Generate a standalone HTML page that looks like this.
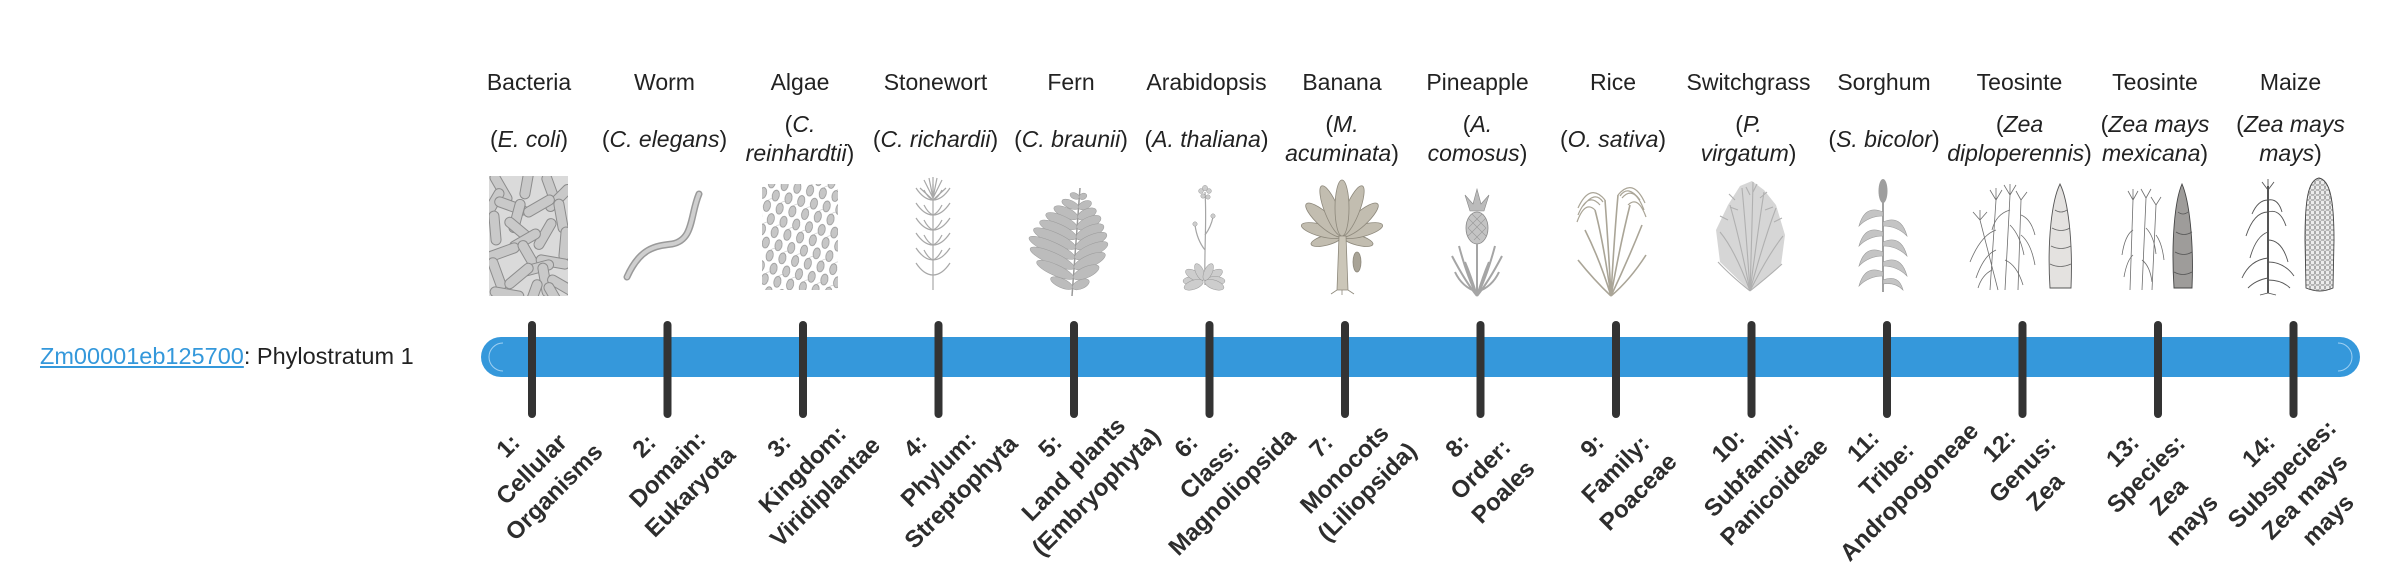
<!DOCTYPE html>
<html><head><meta charset="utf-8">
<style>
html,body{margin:0;padding:0;background:#fff;}
body{width:2400px;height:580px;position:relative;overflow:hidden;font-family:"Liberation Sans",sans-serif;color:#222;}
svg.bg{position:absolute;left:0;top:0;}
.nm,.sp{position:absolute;width:200px;text-align:center;font-size:23px;line-height:29px;white-space:nowrap;}
.nm{top:67.5px;}
.sp{top:124.5px;}
.sp.two{top:110px;}
.sp i{font-style:italic;}
.lb{position:absolute;top:421px;font-weight:bold;font-size:24px;line-height:32.5px;text-align:center;white-space:nowrap;color:#2d2d2d;transform:translateX(-50%) rotate(-45deg);}
.gene{position:absolute;left:40px;top:341px;font-size:23.5px;line-height:30px;white-space:nowrap;color:#222;}
.gene a{color:#3498db;text-decoration:underline;}
</style></head><body>
<svg class="bg" width="2400" height="580" viewBox="0 0 2400 580" xmlns="http://www.w3.org/2000/svg">
<defs>
<rect id="rod" x="-17" y="-5" width="34" height="10" rx="5" fill="#c9c9c9" stroke="#8c8c8c" stroke-width="1"/>
<clipPath id="bc"><rect x="0" y="0" width="79" height="120"/></clipPath>
<pattern id="alg" width="13" height="24" patternUnits="userSpaceOnUse" patternTransform="rotate(12)">
<ellipse cx="6.5" cy="6" rx="3.5" ry="5.5" fill="#c6c6c6" stroke="#8f8f8f" stroke-width="0.7"/>
<ellipse cx="0" cy="18" rx="3.5" ry="5.5" fill="#c6c6c6" stroke="#8f8f8f" stroke-width="0.7"/>
<ellipse cx="13" cy="18" rx="3.5" ry="5.5" fill="#c6c6c6" stroke="#8f8f8f" stroke-width="0.7"/>
<path d="M6.5,0 q-3,-3 -5,-2 M0,12 q3,-3 5,-2" stroke="#aaa" stroke-width="0.5" fill="none"/>
</pattern>
<pattern id="kern" width="5" height="5" patternUnits="userSpaceOnUse">
<rect x="0.5" y="0.5" width="4" height="4" rx="1" fill="#ececec" stroke="#7a7a7a" stroke-width="0.6"/>
</pattern>
</defs>

<!-- Bacteria -->
<g transform="translate(489,176)" clip-path="url(#bc)">
<rect width="79" height="120" fill="#dadada"/>
<use href="#rod" transform="translate(12,12) rotate(60)"/>
<use href="#rod" transform="translate(38,6) rotate(100)"/>
<use href="#rod" transform="translate(62,14) rotate(70)"/>
<use href="#rod" transform="translate(4,28) rotate(120)"/>
<use href="#rod" transform="translate(22,30) rotate(20)"/>
<use href="#rod" transform="translate(70,22) rotate(-45)"/>
<use href="#rod" transform="translate(50,30) rotate(-30)"/>
<use href="#rod" transform="translate(28,40) rotate(-75)"/>
<use href="#rod" transform="translate(72,40) rotate(80)"/>
<use href="#rod" transform="translate(6,52) rotate(85)"/>
<use href="#rod" transform="translate(30,54) rotate(40)"/>
<use href="#rod" transform="translate(56,58) rotate(-60)"/>
<use href="#rod" transform="translate(36,64) rotate(150)"/>
<use href="#rod" transform="translate(76,68) rotate(95)"/>
<use href="#rod" transform="translate(14,76) rotate(-20)"/>
<use href="#rod" transform="translate(40,80) rotate(60)"/>
<use href="#rod" transform="translate(64,86) rotate(10)"/>
<use href="#rod" transform="translate(48,92) rotate(-15)"/>
<use href="#rod" transform="translate(8,98) rotate(70)"/>
<use href="#rod" transform="translate(30,100) rotate(-40)"/>
<use href="#rod" transform="translate(56,104) rotate(80)"/>
<use href="#rod" transform="translate(74,110) rotate(30)"/>
<use href="#rod" transform="translate(18,118) rotate(10)"/>
<use href="#rod" transform="translate(44,120) rotate(-70)"/>
<use href="#rod" transform="translate(66,122) rotate(60)"/>
</g>

<!-- Worm -->
<path d="M699,194 C690,215 694,240 672,244 C655,246 640,248 627,277" fill="none" stroke="#9a9a9a" stroke-width="7" stroke-linecap="round"/>
<path d="M699,194 C690,215 694,240 672,244 C655,246 640,248 627,277" fill="none" stroke="#cfcfcf" stroke-width="4" stroke-linecap="round"/>

<!-- Algae -->
<rect x="762" y="184" width="76" height="106" fill="url(#alg)"/>

<!-- Stonewort -->
<g stroke="#a8a8a8" fill="none" stroke-width="1.2">
<path d="M933,184 L933,290"/>
<path d="M933,200 q-9,0 -17,-12 M933,200 q9,0 17,-12 M933,200 q-5,-2 -9,-10 M933,200 q5,-2 9,-10"/>
<path d="M933,215 q-9,0 -17,-12 M933,215 q9,0 17,-12 M933,215 q-5,-2 -9,-10 M933,215 q5,-2 9,-10"/>
<path d="M933,230 q-9,0 -17,-12 M933,230 q9,0 17,-12 M933,230 q-5,-2 -9,-10 M933,230 q5,-2 9,-10"/>
<path d="M933,245 q-9,0 -17,-12 M933,245 q9,0 17,-12 M933,245 q-5,-2 -9,-10 M933,245 q5,-2 9,-10"/>
<path d="M933,260 q-9,0 -17,-12 M933,260 q9,0 17,-12 M933,260 q-5,-2 -9,-10 M933,260 q5,-2 9,-10"/>
<path d="M933,275 q-9,0 -17,-12 M933,275 q9,0 17,-12"/>
<path d="M933,198 L924,180 M933,198 L929,178 M933,198 L933,177 M933,198 L937,178 M933,198 L942,180 M933,200 L920,188 M933,200 L946,188"/>
</g>

<!-- Fern -->
<g fill="#bcbcbc" stroke="#9a9a9a" stroke-width="0.5">
<path d="M1080,188 L1072,296" stroke="#999" stroke-width="1.5" fill="none"/>
<g transform="translate(1079.3,198)"><ellipse cx="-5" rx="5" ry="3" transform="rotate(24)"/><ellipse cx="4" rx="4" ry="3" transform="rotate(-24)"/></g>
<g transform="translate(1078.5,208)"><ellipse cx="-9" rx="9" ry="4" transform="rotate(24)"/><ellipse cx="7" rx="7" ry="4" transform="rotate(-24)"/></g>
<g transform="translate(1077.8,218)"><ellipse cx="-13" rx="13" ry="5" transform="rotate(24)"/><ellipse cx="10" rx="10" ry="5" transform="rotate(-24)"/></g>
<g transform="translate(1077,228)"><ellipse cx="-17" rx="17" ry="5.5" transform="rotate(24)"/><ellipse cx="13" rx="13" ry="5.5" transform="rotate(-24)"/></g>
<g transform="translate(1076.3,238)"><ellipse cx="-20" rx="20" ry="6" transform="rotate(24)"/><ellipse cx="15" rx="15" ry="6" transform="rotate(-24)"/></g>
<g transform="translate(1075.6,248)"><ellipse cx="-23" rx="23" ry="6" transform="rotate(24)"/><ellipse cx="17" rx="17" ry="6" transform="rotate(-24)"/></g>
<g transform="translate(1074.8,258)"><ellipse cx="-25" rx="25" ry="6" transform="rotate(24)"/><ellipse cx="18" rx="18" ry="6" transform="rotate(-24)"/></g>
<g transform="translate(1074.1,268)"><ellipse cx="-24" rx="24" ry="6" transform="rotate(24)"/><ellipse cx="17" rx="17" ry="6" transform="rotate(-24)"/></g>
<g transform="translate(1073.3,278)"><ellipse cx="-20" rx="20" ry="5.5" transform="rotate(24)"/><ellipse cx="14" rx="14" ry="5.5" transform="rotate(-24)"/></g>
<g transform="translate(1072.6,288)"><ellipse cx="-12" rx="12" ry="4.5" transform="rotate(24)"/><ellipse cx="9" rx="9" ry="4.5" transform="rotate(-24)"/></g>
</g>

<!-- Arabidopsis -->
<g fill="none" stroke="#a5a5a5" stroke-width="1.2">
<path d="M1205,285 C1204,250 1207,220 1205,192"/>
<path d="M1205,250 q-8,-10 -10,-25 M1205,235 q6,-8 8,-18"/>
</g>
<g fill="#cdcdcd" stroke="#999" stroke-width="0.5">
<circle cx="1205" cy="188" r="2.6"/><circle cx="1201" cy="191" r="2.4"/><circle cx="1209" cy="191" r="2.4"/>
<circle cx="1203" cy="196" r="2.2"/><circle cx="1208" cy="197" r="2.2"/><circle cx="1195" cy="224" r="2.2"/><circle cx="1213" cy="216" r="2.2"/>
<g transform="translate(1204,281)">
<ellipse cx="-11" rx="10" ry="4.5"/><ellipse cx="-11" rx="10" ry="4.5" transform="rotate(30)"/><ellipse cx="-11" rx="10" ry="4.5" transform="rotate(-20)"/>
<ellipse cx="-11" rx="10" ry="4.5" transform="rotate(150)"/><ellipse cx="-11" rx="10" ry="4.5" transform="rotate(180)"/><ellipse cx="-11" rx="10" ry="4.5" transform="rotate(200)"/>
<ellipse cx="-10" rx="9" ry="4" transform="rotate(65)"/><ellipse cx="-10" rx="9" ry="4" transform="rotate(115)"/>
</g>
</g>

<!-- Banana -->
<g fill="#c2bdb0" stroke="#8d887b" stroke-width="0.8">
<g transform="translate(1342,236)">
<ellipse cx="0" cy="-16" rx="5" ry="16" transform="rotate(-105)"/><ellipse cx="0" cy="-16" rx="5" ry="16" transform="rotate(105)"/>
<ellipse cx="0" cy="-21" rx="6" ry="21" transform="rotate(-75)"/><ellipse cx="0" cy="-21" rx="6" ry="21" transform="rotate(75)"/>
<ellipse cx="0" cy="-24" rx="7" ry="24" transform="rotate(-48)"/><ellipse cx="0" cy="-24" rx="7" ry="24" transform="rotate(48)"/>
<ellipse cx="0" cy="-27" rx="7" ry="27" transform="rotate(-22)"/><ellipse cx="0" cy="-27" rx="7" ry="27" transform="rotate(22)"/>
<ellipse cx="0" cy="-28" rx="7" ry="28"/>
</g>
<path d="M1337,290 L1339,236 L1346,236 L1348,290 Z" fill="#cbc6b8"/>
<ellipse cx="1357" cy="262" rx="4" ry="10" fill="#a8a396"/>
<path d="M1337,290 l-6,4 M1342,290 l0,5 M1348,290 l6,4" fill="none"/>
</g>

<!-- Pineapple -->
<g>
<path d="M1470,211 L1465,195 L1473,204 L1477,189 L1481,204 L1489,195 L1484,211 Z" fill="#bbb" stroke="#888" stroke-width="0.6"/>
<ellipse cx="1477" cy="228" rx="11" ry="16" fill="#c4c4c4" stroke="#888" stroke-width="0.8"/>
<path d="M1468,218 l18,18 M1468,228 l12,12 M1472,214 l14,14 M1486,218 l-18,18 M1486,228 l-12,12 M1482,214 l-14,14" stroke="#999" stroke-width="0.6" fill="none"/>
<g fill="none" stroke="#a5a5a5" stroke-width="2">
<path d="M1477,296 L1477,244"/>
<path d="M1477,296 q-12,-15 -25,-40 M1477,296 q-10,-20 -18,-50 M1477,296 q-6,-20 -12,-34 M1477,292 q-15,-5 -22,-20"/>
<path d="M1477,296 q12,-15 25,-40 M1477,296 q10,-20 18,-50 M1477,296 q6,-20 12,-34 M1477,292 q15,-5 22,-20"/>
</g>
</g>

<!-- Rice -->
<g fill="none" stroke="#aaa597" stroke-width="1.6">
<path d="M1611,296 Q1600,260 1585,230 M1611,296 Q1603,240 1595,210 M1611,296 Q1608,240 1605,200 M1611,296 Q1614,240 1618,195 M1611,296 Q1620,245 1630,205 M1611,296 Q1628,260 1642,225 M1611,296 Q1594,280 1578,260 M1611,296 Q1630,280 1646,255"/>
<path d="M1605,200 q-15,-18 -27,8 M1600,205 q-12,-14 -22,10 M1595,210 q-10,-10 -18,12 M1603,202 q-8,-12 -20,4" stroke-width="1.2"/>
<path d="M1618,195 q15,-18 27,8 M1622,198 q12,-14 22,12 M1628,205 q10,-10 18,12 M1620,196 q8,-12 20,4" stroke-width="1.2"/>
</g>

<!-- Switchgrass -->
<g>
<path d="M1750,291 L1720,262 L1716,230 L1728,205 L1740,186 L1752,181 L1764,190 L1776,205 L1785,235 L1781,265 Z" fill="#d6d6d6"/>
<g fill="none" stroke="#b0b0b0" stroke-width="1.1">
<path d="M1750,291 Q1735,250 1720,232 M1750,291 Q1740,240 1730,205 M1750,291 Q1746,230 1742,188 M1750,291 Q1752,230 1753,182 M1750,291 Q1758,230 1764,192 M1750,291 Q1764,240 1776,208 M1750,291 Q1768,255 1783,236 M1750,291 Q1730,275 1718,262 M1750,291 Q1770,275 1782,264"/>
<path d="M1735,200 l-6,-6 M1738,210 l-8,-3 M1760,198 l7,-6 M1765,210 l8,-3 M1750,195 l-4,-8 M1753,192 l4,-8 M1728,220 l-8,-4 M1774,222 l8,-4"/>
</g>
</g>

<!-- Sorghum -->
<g>
<path d="M1883,292 L1883,200" stroke="#a0a0a0" stroke-width="2"/>
<ellipse cx="1883" cy="191" rx="4.5" ry="12" fill="#9e9e9e"/>
<g fill="#c4c4c4" stroke="#999" stroke-width="0.6">
<path d="M1883,212 q-18,-8 -24,14 q10,-10 24,-10 Z"/>
<path d="M1883,232 q-18,-8 -24,14 q10,-10 24,-10 Z"/>
<path d="M1883,252 q-18,-8 -24,14 q10,-10 24,-10 Z"/>
<path d="M1883,272 q-18,-8 -24,14 q10,-10 24,-10 Z"/>
<path d="M1883,222 q18,-8 24,14 q-10,-10 -24,-10 Z"/>
<path d="M1883,242 q18,-8 24,14 q-10,-10 -24,-10 Z"/>
<path d="M1883,262 q18,-8 24,14 q-10,-10 -24,-10 Z"/>
<path d="M1883,280 q16,-6 20,10 q-8,-8 -20,-6 Z"/>
</g>
</g>

<!-- Teosinte 1 -->
<g fill="none" stroke="#6e6e6e" stroke-width="0.8">
<path d="M1990,290 L1996,200 M2005,290 L2010,195 M2018,290 L2021,200 M1998,290 L1980,220"/>
<path d="M1996,230 q-15,5 -26,32 M1996,250 q-12,5 -20,28 M2010,225 q10,10 14,30 M2021,235 q10,8 14,30 M2005,260 q12,5 18,25 M1992,270 q-10,5 -14,18 M2010,210 q-14,4 -18,20 M2021,215 q10,4 14,20"/>
<path d="M1996,200 l-6,-10 M1996,200 l0,-12 M1996,200 l6,-10 M2010,195 l-6,-10 M2010,195 l0,-11 M2010,195 l6,-10 M2021,200 l-5,-9 M2021,200 l6,-8 M1980,220 l-7,-8 M1980,220 l0,-10 M1980,220 l7,-8"/>
</g>
<path d="M2060,184 C2068,200 2073,240 2071,288 L2050,288 C2047,240 2052,200 2060,184 Z" fill="#e4e2e0" stroke="#555" stroke-width="0.9"/>
<path d="M2055,210 q6,4 12,0 M2052,228 q9,5 18,0 M2051,246 q10,5 20,0 M2050,264 q10,5 21,0" fill="none" stroke="#666" stroke-width="0.8"/>

<!-- Teosinte 2 -->
<g fill="none" stroke="#6e6e6e" stroke-width="0.8">
<path d="M2130,290 L2133,200 M2142,290 L2146,198 M2152,290 L2156,205"/>
<path d="M2133,230 q-8,5 -11,25 M2146,228 q8,8 10,26 M2156,235 q6,8 8,25 M2133,255 q-6,5 -9,22 M2142,260 q8,6 10,22"/>
<path d="M2133,200 l-5,-9 M2133,200 l0,-11 M2133,200 l5,-9 M2146,198 l-5,-9 M2146,198 l5,-9 M2156,205 l-5,-8 M2156,205 l5,-8"/>
</g>
<path d="M2182,184 C2189,200 2194,240 2192,288 L2174,288 C2171,240 2175,200 2182,184 Z" fill="#9e9c9a" stroke="#444" stroke-width="0.9"/>
<path d="M2178,212 q5,4 10,0 M2176,232 q8,5 16,0 M2175,252 q9,5 17,0 M2174,272 q9,5 18,0" fill="none" stroke="#555" stroke-width="0.8"/>

<!-- Maize -->
<g fill="none" stroke="#555" stroke-width="0.9">
<path d="M2268,293 L2268,186" stroke-width="2"/>
<path d="M2268,212 q-14,0 -22,24 M2268,212 q12,-4 18,14 M2268,232 q-12,4 -18,26 M2268,240 q14,0 20,22 M2268,258 q-18,2 -26,20 M2268,262 q16,0 26,14 M2268,278 q-12,2 -20,10 M2268,280 q14,0 22,8 M2268,200 q-10,0 -16,14 M2268,200 q10,-2 14,12"/>
<path d="M2268,190 l-6,-8 M2268,190 l0,-11 M2268,190 l6,-8 M2268,293 l-8,2 M2268,293 l8,2"/>
</g>
<path d="M2319,178 C2330,180 2334,200 2334,240 L2333,288 Q2320,294 2306,288 L2305,240 C2305,200 2308,180 2319,178 Z" fill="url(#kern)" stroke="#444" stroke-width="0.9"/>

<!-- Bar -->
<rect x="481" y="337" width="1879" height="40" rx="20" ry="20" fill="#3598db"/>
<path d="M503,343 A14,14 0 0 0 503,371" fill="none" stroke="#9fd0f2" stroke-width="1"/>
<path d="M2338,343 A14,14 0 0 1 2338,371" fill="none" stroke="#9fd0f2" stroke-width="1"/>

<!-- Ticks -->
<g stroke="#333" stroke-width="8" stroke-linecap="round">
<line x1="532" y1="325" x2="532" y2="414"/>
<line x1="667.5" y1="325" x2="667.5" y2="414"/>
<line x1="803" y1="325" x2="803" y2="414"/>
<line x1="938.5" y1="325" x2="938.5" y2="414"/>
<line x1="1074" y1="325" x2="1074" y2="414"/>
<line x1="1209.5" y1="325" x2="1209.5" y2="414"/>
<line x1="1345" y1="325" x2="1345" y2="414"/>
<line x1="1480.5" y1="325" x2="1480.5" y2="414"/>
<line x1="1616" y1="325" x2="1616" y2="414"/>
<line x1="1751.5" y1="325" x2="1751.5" y2="414"/>
<line x1="1887" y1="325" x2="1887" y2="414"/>
<line x1="2022.5" y1="325" x2="2022.5" y2="414"/>
<line x1="2158" y1="325" x2="2158" y2="414"/>
<line x1="2293.5" y1="325" x2="2293.5" y2="414"/>
</g>
</svg>

<div class="gene"><a>Zm00001eb125700</a>: Phylostratum 1</div>

<div class="nm" style="left:429px">Bacteria</div>
<div class="nm" style="left:564.5px">Worm</div>
<div class="nm" style="left:700px">Algae</div>
<div class="nm" style="left:835.5px">Stonewort</div>
<div class="nm" style="left:971px">Fern</div>
<div class="nm" style="left:1106.5px">Arabidopsis</div>
<div class="nm" style="left:1242px">Banana</div>
<div class="nm" style="left:1377.5px">Pineapple</div>
<div class="nm" style="left:1513px">Rice</div>
<div class="nm" style="left:1648.5px">Switchgrass</div>
<div class="nm" style="left:1784px">Sorghum</div>
<div class="nm" style="left:1919.5px">Teosinte</div>
<div class="nm" style="left:2055px">Teosinte</div>
<div class="nm" style="left:2190.5px">Maize</div>

<div class="sp" style="left:429px">(<i>E. coli</i>)</div>
<div class="sp" style="left:564.5px">(<i>C. elegans</i>)</div>
<div class="sp two" style="left:700px">(<i>C.<br>reinhardtii</i>)</div>
<div class="sp" style="left:835.5px">(<i>C. richardii</i>)</div>
<div class="sp" style="left:971px">(<i>C. braunii</i>)</div>
<div class="sp" style="left:1106.5px">(<i>A. thaliana</i>)</div>
<div class="sp two" style="left:1242px">(<i>M.<br>acuminata</i>)</div>
<div class="sp two" style="left:1377.5px">(<i>A.<br>comosus</i>)</div>
<div class="sp" style="left:1513px">(<i>O. sativa</i>)</div>
<div class="sp two" style="left:1648.5px">(<i>P.<br>virgatum</i>)</div>
<div class="sp" style="left:1784px">(<i>S. bicolor</i>)</div>
<div class="sp two" style="left:1919.5px">(<i>Zea<br>diploperennis</i>)</div>
<div class="sp two" style="left:2055px">(<i>Zea mays<br>mexicana</i>)</div>
<div class="sp two" style="left:2190.5px">(<i>Zea mays<br>mays</i>)</div>

<div class="lb" style="left:532px">1:<br>Cellular<br>Organisms</div>
<div class="lb" style="left:667.5px">2:<br>Domain:<br>Eukaryota</div>
<div class="lb" style="left:803px">3:<br>Kingdom:<br>Viridiplantae</div>
<div class="lb" style="left:938.5px">4:<br>Phylum:<br>Streptophyta</div>
<div class="lb" style="left:1074px">5:<br>Land plants<br>(Embryophyta)</div>
<div class="lb" style="left:1209.5px">6:<br>Class:<br>Magnoliopsida</div>
<div class="lb" style="left:1345px">7:<br>Monocots<br>(Liliopsida)</div>
<div class="lb" style="left:1480.5px">8:<br>Order:<br>Poales</div>
<div class="lb" style="left:1616px">9:<br>Family:<br>Poaceae</div>
<div class="lb" style="left:1751.5px">10:<br>Subfamily:<br>Panicoideae</div>
<div class="lb" style="left:1887px">11:<br>Tribe:<br>Andropogoneae</div>
<div class="lb" style="left:2022.5px">12:<br>Genus:<br>Zea</div>
<div class="lb" style="left:2158px">13:<br>Species:<br>Zea<br>mays</div>
<div class="lb" style="left:2293.5px">14:<br>Subspecies:<br>Zea mays<br>mays</div>
</body></html>
